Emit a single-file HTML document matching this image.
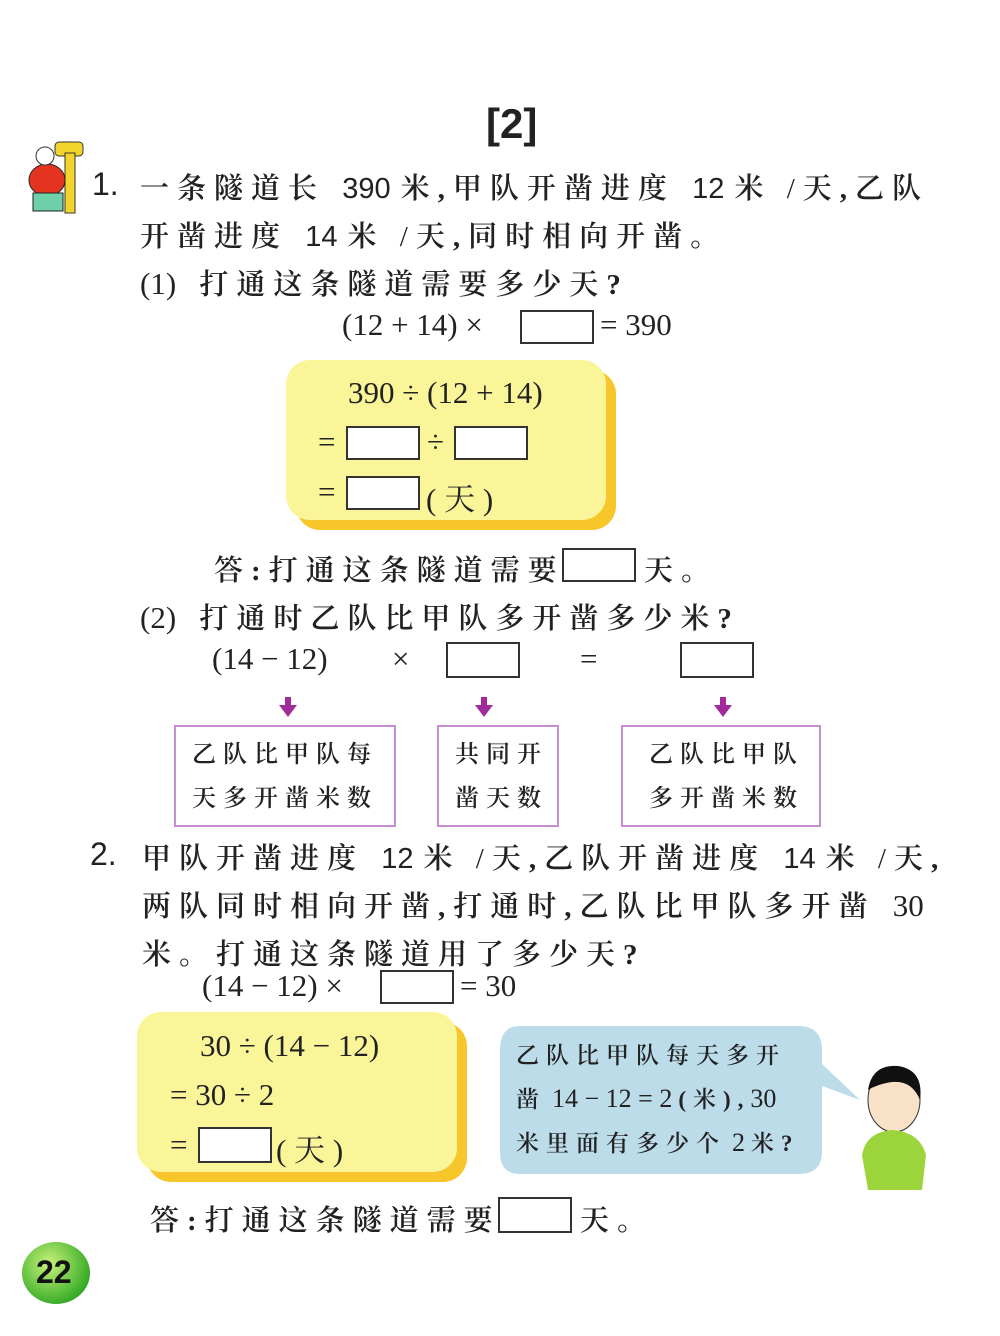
<!DOCTYPE html>
<html><head><meta charset="utf-8"><style>
body{margin:0;width:1000px;height:1336px;background:#fff;position:relative;overflow:hidden;font-family:"Liberation Serif","Noto Serif CJK SC",serif;color:#222}
.a{position:absolute;white-space:nowrap}
.t{font-size:29px;letter-spacing:8px;font-weight:600}
.t .n,.p .n{font-family:"Liberation Sans",sans-serif;letter-spacing:0;margin:0 10px 0 2px;font-weight:400}
.t .q{letter-spacing:0;font-family:"Liberation Serif",serif;font-weight:400;margin:0 8px 0 0}
.m{font-size:31px}
.b{position:absolute;border:2px solid #333;background:#fff}
.y{position:absolute;background:#fbf59a;border-radius:24px;box-shadow:10px 10px 0 #f7c62a}
.p{position:absolute;border:2px solid #c58fcf;background:#fff;font-size:24px;letter-spacing:7px;line-height:44px;padding:6px 0 0 16px;box-sizing:border-box;font-weight:600}
.ar{position:absolute;width:0;height:0;border-left:9px solid transparent;border-right:9px solid transparent;border-top:12px solid #a12b9b}
.as{position:absolute;width:6px;height:8px;background:#a12b9b}
.sp{font-size:23px;letter-spacing:7px;line-height:43px;font-weight:600}
.sp .n{letter-spacing:0;font-weight:400;font-family:"Liberation Serif",serif;font-size:26px;margin:0 6px}
</style></head><body>
<div class="a" style="left:486px;top:100px;font:bold 42px 'Liberation Sans',sans-serif">[2]</div>
<svg class="a" style="left:15px;top:138px" width="72" height="82">
<rect x="40" y="4" width="28" height="14" rx="4" fill="#f3d42a" stroke="#333"/><rect x="50" y="15" width="10" height="60" fill="#f3d42a" stroke="#333"/>
<ellipse cx="32" cy="42" rx="18" ry="16" fill="#e4341f" stroke="#222"/><circle cx="30" cy="18" r="9" fill="#fff" stroke="#333"/>
<rect x="18" y="55" width="30" height="18" fill="#6ed0a8" stroke="#222"/>
</svg>
<div class="a" style="left:92px;top:166px;font:32px 'Liberation Sans',sans-serif">1.</div>
<div class="a t" style="left:140px;top:166px">一条隧道长 <span class="n">390</span>米,甲队开凿进度 <span class="n">12</span>米 <span class="q">/</span>天,乙队</div>
<div class="a t" style="left:140px;top:214px">开凿进度 <span class="n">14</span>米 <span class="q">/</span>天,同时相向开凿。</div>
<div class="a t" style="left:140px;top:262px"><span class="q" style="font-size:31px">(1)</span> 打通这条隧道需要多少天?</div>
<div class="a m" style="left:342px;top:307px">(12 + 14) ×</div>
<div class="b" style="left:520px;top:310px;width:70px;height:30px"></div>
<div class="a m" style="left:600px;top:307px">= 390</div>

<div class="y" style="left:286px;top:360px;width:320px;height:160px"></div>
<div class="a m" style="left:348px;top:375px">390 ÷ (12 + 14)</div>
<div class="a m" style="left:318px;top:424px">=</div>
<div class="b" style="left:346px;top:426px;width:70px;height:30px"></div>
<div class="a m" style="left:427px;top:424px">÷</div>
<div class="b" style="left:454px;top:426px;width:70px;height:30px"></div>
<div class="a m" style="left:318px;top:474px">=</div>
<div class="b" style="left:346px;top:476px;width:70px;height:30px"></div>
<div class="a m" style="left:426px;top:474px">( 天 )</div>

<div class="a t" style="left:214px;top:548px">答:打通这条隧道需要</div>
<div class="b" style="left:562px;top:548px;width:70px;height:30px"></div>
<div class="a t" style="left:644px;top:548px">天。</div>
<div class="a t" style="left:140px;top:596px"><span class="q" style="font-size:31px">(2)</span> 打通时乙队比甲队多开凿多少米?</div>
<div class="a m" style="left:212px;top:641px">(14 − 12)</div>
<div class="a m" style="left:392px;top:641px">×</div>
<div class="b" style="left:446px;top:642px;width:70px;height:32px"></div>
<div class="a m" style="left:580px;top:641px">=</div>
<div class="b" style="left:680px;top:642px;width:70px;height:32px"></div>
<div class="as" style="left:285px;top:697px"></div><div class="ar" style="left:279px;top:705px"></div>
<div class="as" style="left:481px;top:697px"></div><div class="ar" style="left:475px;top:705px"></div>
<div class="as" style="left:720px;top:697px"></div><div class="ar" style="left:714px;top:705px"></div>
<div class="p" style="left:174px;top:725px;width:222px;height:102px">乙队比甲队每<br>天多开凿米数</div>
<div class="p" style="left:437px;top:725px;width:122px;height:102px">共同开<br>凿天数</div>
<div class="p" style="left:621px;top:725px;width:200px;height:102px;padding-left:26px">乙队比甲队<br>多开凿米数</div>

<div class="a" style="left:90px;top:836px;font:32px 'Liberation Sans',sans-serif">2.</div>
<div class="a t" style="left:142px;top:836px">甲队开凿进度 <span class="n">12</span>米 <span class="q">/</span>天,乙队开凿进度 <span class="n">14</span>米 <span class="q">/</span>天,</div>
<div class="a t" style="left:142px;top:884px">两队同时相向开凿,打通时,乙队比甲队多开凿 <span class="n" style="font-family:'Liberation Serif',serif;font-size:31px">30</span></div>
<div class="a t" style="left:142px;top:932px">米。打通这条隧道用了多少天?</div>
<div class="a m" style="left:202px;top:968px">(14 − 12) ×</div>
<div class="b" style="left:380px;top:970px;width:70px;height:30px"></div>
<div class="a m" style="left:460px;top:968px">= 30</div>

<div class="y" style="left:137px;top:1012px;width:320px;height:160px"></div>
<div class="a m" style="left:200px;top:1028px">30 ÷ (14 − 12)</div>
<div class="a m" style="left:170px;top:1077px">= 30 ÷ 2</div>
<div class="a m" style="left:170px;top:1127px">=</div>
<div class="b" style="left:198px;top:1127px;width:70px;height:32px"></div>
<div class="a m" style="left:276px;top:1125px">( 天 )</div>

<svg class="a" style="left:498px;top:1024px" width="370" height="155"><path d="M22 2H300Q324 2 324 26V40L362 76L324 62V128Q324 150 300 150H22Q2 150 2 128V26Q2 2 22 2Z" fill="#bcdcea"/></svg>
<div class="a sp" style="left:516px;top:1034px">乙队比甲队每天多开<br>凿<span class="n">14 − 12 = 2</span>(米),<span class="n" style="margin:0">30</span><br>米里面有多少个<span class="n">2</span>米?</div>
<svg class="a" style="left:852px;top:1060px" width="80" height="135">
<ellipse cx="42" cy="40" rx="26" ry="32" fill="#f9e1c8" stroke="#333"/><path d="M16 30Q20 4 46 6Q72 10 68 40Q60 20 40 22Q26 24 16 30Z" fill="#111"/>
<path d="M10 95Q14 72 40 70Q68 72 74 95L70 130H16Z" fill="#9bd43b"/>
</svg>
<div class="a t" style="left:150px;top:1198px">答:打通这条隧道需要</div>
<div class="b" style="left:498px;top:1197px;width:70px;height:32px"></div>
<div class="a t" style="left:580px;top:1198px">天。</div>
<div class="a" style="left:22px;top:1242px;width:68px;height:62px;border-radius:50%;background:radial-gradient(circle at 40% 35%,#c9f27a,#3cae2a 70%,#1e7a1a)"></div>
<div class="a" style="left:36px;top:1254px;font:bold 32px 'Liberation Sans',sans-serif;color:#111">22</div>
</body></html>
